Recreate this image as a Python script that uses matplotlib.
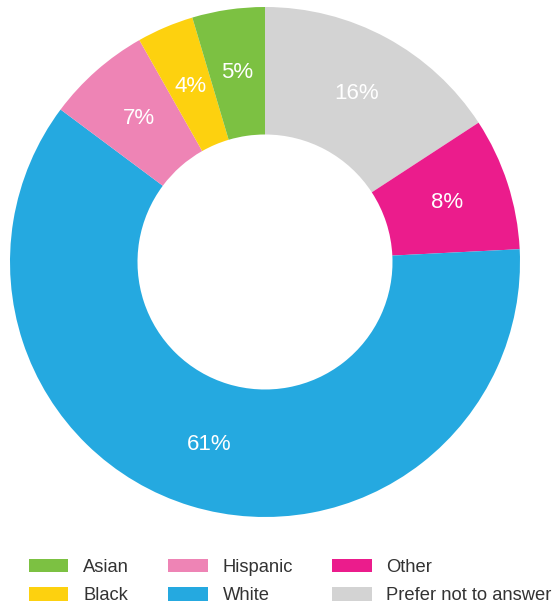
import matplotlib

matplotlib.use("Agg")
import matplotlib.pyplot as plt
import numpy as np

# Slices clockwise from 12 o'clock
labels = ["Prefer not to answer", "Other", "White", "Hispanic", "Black", "Asian"]
values = [15.8, 8.4, 61.0, 6.6, 3.6, 4.6]
pct_text = ["16%", "8%", "61%", "7%", "4%", "5%"]
colors = ["#D3D3D3", "#EB1C8C", "#25A9E0", "#EE84B5", "#FDD10F", "#7CC142"]

legend_order = ["Asian", "Black", "Hispanic", "White", "Other", "Prefer not to answer"]

plt.rcParams["font.family"] = ["Liberation Sans", "DejaVu Sans"]

fig = plt.figure(figsize=(5.57, 6.04), dpi=100)
ax = fig.add_axes([10 / 557, 87 / 604, 510 / 557, 510 / 604])

wedges, _ = ax.pie(values, colors=colors, startangle=90, counterclock=False,
                   radius=1.0, wedgeprops=dict(width=0.5, linewidth=0))
ax.set_xlim(-1, 1)
ax.set_ylim(-1, 1)
ax.set_aspect("equal")
ax.axis("off")

# percentage labels in the middle of the ring
total = sum(values)
start = 90.0
for v, t in zip(values, pct_text):
    mid = start - v / total * 360 / 2
    start -= v / total * 360
    r = 0.75
    ax.text(r * np.cos(np.radians(mid)), r * np.sin(np.radians(mid)), t,
            ha="center", va="center", color="white", fontsize=16)

handle_map = dict(zip(labels, wedges))
fig.legend([handle_map[l] for l in legend_order], legend_order, ncol=3,
           loc="upper left", bbox_to_anchor=(29 / 557, 1 - 559 / 604),
           frameon=False, fontsize=13.2, handlelength=2.15, handleheight=0.75,
           handletextpad=0.8, columnspacing=2.15, labelspacing=0.6,
           borderpad=0, borderaxespad=0, labelcolor="#333333")

fig.savefig("out.png", dpi=100)
